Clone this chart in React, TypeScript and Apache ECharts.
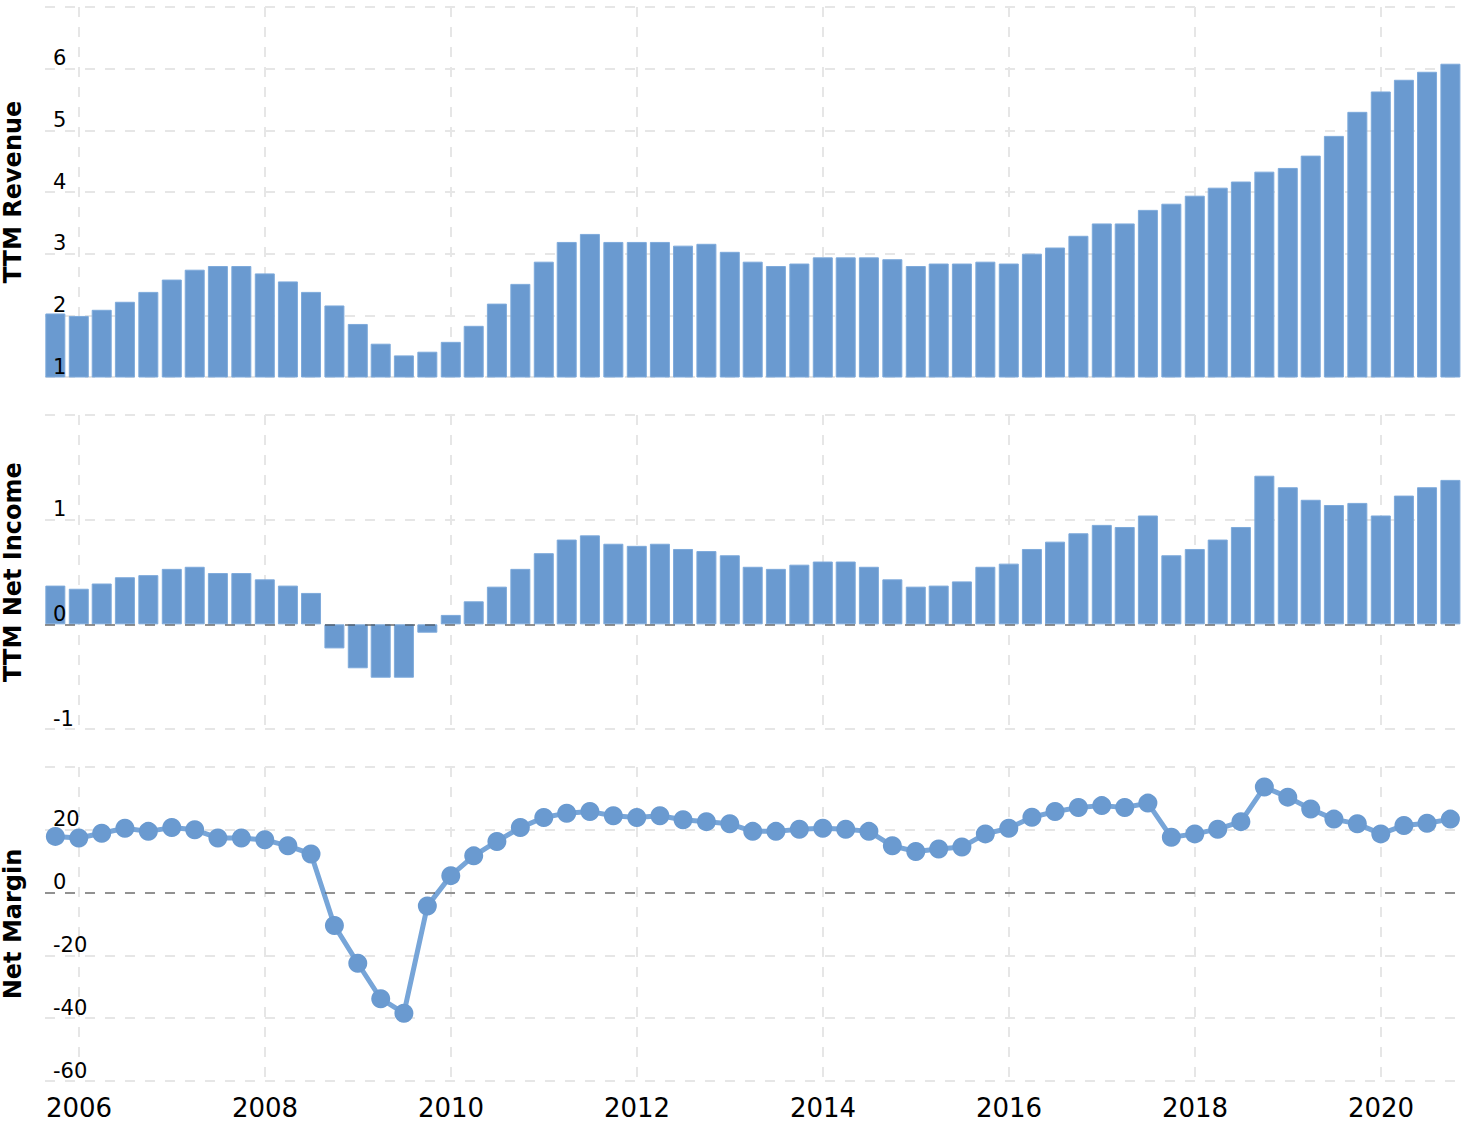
import React, { useEffect, useRef } from "react";
import * as echarts from "echarts";

const quarters = [
  "2005-09-30", "2005-12-31",
  "2006-03-31", "2006-06-30", "2006-09-30", "2006-12-31",
  "2007-03-31", "2007-06-30", "2007-09-30", "2007-12-31",
  "2008-03-31", "2008-06-30", "2008-09-30", "2008-12-31",
  "2009-03-31", "2009-06-30", "2009-09-30", "2009-12-31",
  "2010-03-31", "2010-06-30", "2010-09-30", "2010-12-31",
  "2011-03-31", "2011-06-30", "2011-09-30", "2011-12-31",
  "2012-03-31", "2012-06-30", "2012-09-30", "2012-12-31",
  "2013-03-31", "2013-06-30", "2013-09-30", "2013-12-31",
  "2014-03-31", "2014-06-30", "2014-09-30", "2014-12-31",
  "2015-03-31", "2015-06-30", "2015-09-30", "2015-12-31",
  "2016-03-31", "2016-06-30", "2016-09-30", "2016-12-31",
  "2017-03-31", "2017-06-30", "2017-09-30", "2017-12-31",
  "2018-03-31", "2018-06-30", "2018-09-30", "2018-12-31",
  "2019-03-31", "2019-06-30", "2019-09-30", "2019-12-31",
  "2020-03-31", "2020-06-30", "2020-09-30",
];

const revenue = [
  2.03, 1.99, 2.09, 2.22, 2.38, 2.58, 2.74, 2.80, 2.80, 2.68,
  2.55, 2.38, 2.16, 1.86, 1.54, 1.35, 1.41, 1.57, 1.83, 2.19,
  2.51, 2.87, 3.19, 3.32, 3.19, 3.19, 3.19, 3.13, 3.16, 3.03,
  2.87, 2.80, 2.84, 2.94, 2.94, 2.94, 2.91, 2.80, 2.84, 2.84,
  2.87, 2.84, 3.00, 3.10, 3.29, 3.49, 3.49, 3.71, 3.81, 3.94,
  4.07, 4.17, 4.33, 4.39, 4.59, 4.91, 5.30, 5.63, 5.82, 5.95, 6.08,
];

const netIncome = [
  0.37, 0.34, 0.39, 0.45, 0.47, 0.53, 0.55, 0.49, 0.49, 0.43,
  0.37, 0.30, -0.23, -0.42, -0.51, -0.51, -0.08, 0.09, 0.22, 0.36,
  0.53, 0.68, 0.81, 0.85, 0.77, 0.75, 0.77, 0.72, 0.70, 0.66,
  0.55, 0.53, 0.57, 0.60, 0.60, 0.55, 0.43, 0.36, 0.37, 0.41,
  0.55, 0.58, 0.72, 0.79, 0.87, 0.95, 0.93, 1.04, 0.66, 0.72,
  0.81, 0.93, 1.42, 1.31, 1.19, 1.14, 1.16, 1.04, 1.23, 1.31, 1.38,
];

const netMargin = [
  17.9, 17.4, 18.9, 20.5, 19.5, 20.7, 20.0, 17.4, 17.4, 16.8,
  14.9, 12.3, -10.5, -22.5, -33.8, -38.4, -4.3, 5.4, 11.7, 16.3,
  20.7, 23.9, 25.3, 25.8, 24.5, 23.9, 24.5, 23.2, 22.6, 21.9,
  19.5, 19.5, 20.2, 20.5, 20.2, 19.5, 14.9, 13.1, 13.9, 14.5,
  18.7, 20.5, 24.0, 25.8, 27.1, 27.7, 27.1, 28.5, 17.6, 18.7,
  20.2, 22.6, 33.6, 30.4, 26.6, 23.4, 21.9, 18.7, 21.4, 22.1, 23.4,
];

const panelNames = ["TTM Revenue", "TTM Net Income", "Net Margin"];
const panelMin = [1, -1, -60];
const panelMax = [7, 2, 40];
const panelInterval = [1, 1, 20];

const X_MIN = 2005.634;
const X_MAX = 2020.849;

function toYear(s: string): number {
  const d = new Date(s + "T00:00:00Z");
  const y = d.getUTCFullYear();
  const start = Date.UTC(y, 0, 1);
  const end = Date.UTC(y + 1, 0, 1);
  return y + (d.getTime() - start) / (end - start);
}

const FONT = "DejaVu Sans";
const BAR_COLOR = "#6a9ad0";
const GRID_COLOR = "#e6e6e6";
const ZERO_COLOR = "rgba(60,60,60,0.5)";

export default function App() {
  const ref = useRef<HTMLDivElement>(null);

  useEffect(() => {
    if (!ref.current) return;
    document.body.style.margin = "0";
    const chart = echarts.init(ref.current, undefined, { renderer: "svg" });

    const xs = quarters.map(toYear);
    const pair = (vals: number[]) => vals.map((v, i) => [xs[i], v]);

    const gridBase = { left: 45, right: 8, containLabel: false, outerBoundsMode: "none" };
    const grids = [
      { ...gridBase, top: 7, height: 370 },
      { ...gridBase, top: 415, height: 314 },
      { ...gridBase, top: 767, height: 314 },
    ];

    const xAxes = [0, 1, 2].map((i) => ({
      type: "value",
      gridIndex: i,
      position: "bottom",
      min: X_MIN,
      max: X_MAX,
      splitNumber: 7,
      axisLine: { show: false },
      axisTick: { show: false },
      axisLabel: {
        show: i === 2,
        fontSize: 26,
        lineHeight: 22,
        color: "#000",
        fontFamily: FONT,
        margin: 16,
        showMinLabel: false,
        showMaxLabel: false,
        formatter: (v: number) =>
          Math.abs(v - Math.round(v)) < 1e-6 ? String(Math.round(v)) : "",
      },
      splitLine: {
        show: true,
        showMinLine: false,
        showMaxLine: false,
        lineStyle: { color: GRID_COLOR, width: 2, type: [10, 10] },
      },
    }));

    const yAxes: any[] = [];
    [0, 1, 2].forEach((i) => {
      yAxes.push({
        type: "value",
        gridIndex: i,
        position: "left",
        offset: 0,
        min: panelMin[i],
        max: panelMax[i],
        interval: panelInterval[i],
        axisLine: { show: false },
        axisTick: { show: false },
        axisLabel: { show: false },
        splitLine: {
          show: true,
          lineStyle: { color: GRID_COLOR, width: 2, type: [10, 10] },
        },
      });
      yAxes.push({
        type: "value",
        gridIndex: i,
        position: "left",
        offset: 0,
        min: panelMin[i],
        max: panelMax[i],
        interval: panelInterval[i],
        z: 10,
        axisLine: { show: false },
        axisTick: { show: false },
        splitLine: { show: false },
        axisLabel: {
          inside: true,
          margin: 8,
          verticalAlign: "bottom",
          fontSize: 21,
          color: "#000",
          fontFamily: FONT,
          showMaxLabel: false,
        },
        name: panelNames[i],
        nameLocation: "middle",
        nameRotate: 90,
        nameGap: 20,
        nameTextStyle: {
          fontSize: 24,
          fontWeight: "bold",
          color: "#000",
          fontFamily: FONT,
        },
      });
    });

    const zeroLine = {
      silent: true,
      z: 6,
      symbol: "none",
      label: { show: false },
      lineStyle: { color: ZERO_COLOR, width: 2, type: [10, 10] },
      emphasis: { disabled: true },
      data: [{ yAxis: 0 }],
    };

    chart.setOption({
      animation: false,
      textStyle: { fontFamily: FONT },
      grid: grids,
      xAxis: xAxes,
      yAxis: yAxes,
      series: [
        {
          type: "bar",
          xAxisIndex: 0,
          yAxisIndex: 0,
          data: pair(revenue),
          barWidth: 20,
          clip: true,
          itemStyle: { color: BAR_COLOR, borderColor: "#7eaadb", borderWidth: 1 },
        },
        {
          type: "bar",
          xAxisIndex: 1,
          yAxisIndex: 2,
          data: pair(netIncome),
          barWidth: 20,
          itemStyle: { color: BAR_COLOR, borderColor: "#7eaadb", borderWidth: 1 },
          markLine: zeroLine,
        },
        {
          type: "line",
          xAxisIndex: 2,
          yAxisIndex: 4,
          data: pair(netMargin),
          symbol: "circle",
          symbolSize: 19,
          showAllSymbol: true,
          itemStyle: { color: BAR_COLOR },
          lineStyle: { color: "#77a5d8", width: 5 },
          markLine: zeroLine,
        },
      ],
    });

    return () => chart.dispose();
  }, []);

  return (
    <div
      ref={ref}
      style={{ position: "absolute", left: 0, top: 0, width: 1468, height: 1124 }}
    />
  );
}
